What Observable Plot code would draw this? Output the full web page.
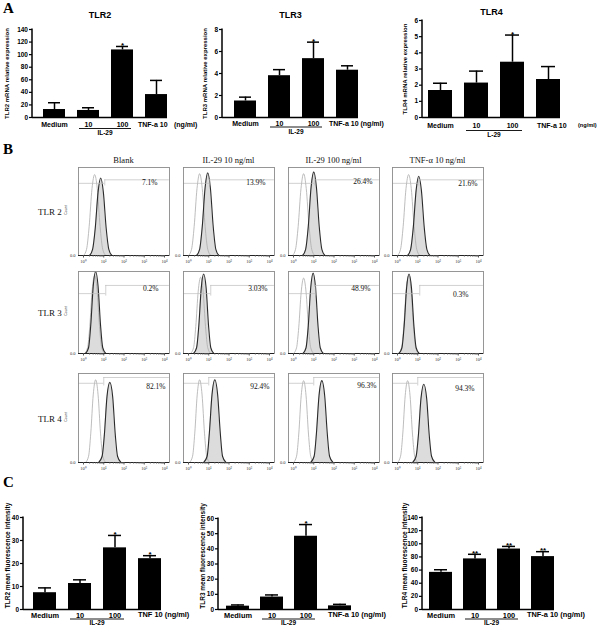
<!DOCTYPE html>
<html>
<head>
<meta charset="utf-8">
<script src="https://cdn.jsdelivr.net/npm/d3@7"></script>
<script src="https://cdn.jsdelivr.net/npm/@observablehq/plot@0.6"></script>
<style>
  body { margin: 0; background: #fff; }
  #fig { position: relative; width: 600px; height: 628px; overflow: hidden; background: #fff; }
  .lbl { position: absolute; white-space: nowrap; line-height: 1; }
  .letter { font-family: "Liberation Serif", "Times New Roman", serif; font-weight: bold; font-size: 15px; color: #000; }
  .hdr { font-family: "Liberation Serif", "Times New Roman", serif; font-size: 8.5px; transform: translate(-50%, -50%); color: #111; }
  .rowlbl { font-family: "Liberation Serif", "Times New Roman", serif; font-size: 9px; transform: translate(0, -50%); color: #111; }
  .count { font-family: "Liberation Sans", Arial, sans-serif; font-size: 3.5px; transform: translate(-50%, -50%) rotate(-90deg); color: #333; }
</style>
</head>
<body>
<div id="fig"></div>
<script>
// ================= DATA =================
// Panel A: TLR mRNA relative expression (bar = mean, upper = top of error bar)
const catsA = ["Medium", "10", "100", "TNF-a 10"];
const tlr2mRNAMean  = [12.7, 11.2, 107.5, 36.5];
const tlr2mRNAUpper = [23.5, 15.5, 113, 59];
const tlr2mRNAStars = ["", "", "*", ""];
const tlr3mRNAMean  = [1.5, 3.8, 5.35, 4.3];
const tlr3mRNAUpper = [1.85, 4.35, 6.85, 4.7];
const tlr3mRNAStars = ["", "", "*", ""];
const tlr4mRNAMean  = [1.67, 2.13, 3.42, 2.35];
const tlr4mRNAUpper = [2.12, 2.87, 5.1, 3.15];
const tlr4mRNAStars = ["", "", "*", ""];
const yTicksA2 = [0, 20, 40, 60, 80, 100, 120, 140];
const yTicksA3 = [0, 2, 4, 6, 8];
const yTicksA4 = [0, 1, 2, 3, 4, 5, 6];

// Panel C: mean fluorescence intensity
const catsC2 = ["Medium", "10", "100", "TNF 10"];
const catsC = ["Medium", "10", "100", "TNF-a 10"];
const tlr2MFIMean  = [7.3, 11.3, 26.8, 22.1];
const tlr2MFIUpper = [9.4, 12.9, 32.2, 23.4];
const tlr2MFIStars = ["", "", "*", "*"];
const tlr3MFIMean  = [2.2, 8.2, 48.3, 2.4];
const tlr3MFIUpper = [3.0, 9.6, 56, 3.4];
const tlr3MFIStars = ["", "", "*", ""];
const tlr4MFIMean  = [56.5, 77, 92, 80.5];
const tlr4MFIUpper = [60.5, 84, 96, 88];
const tlr4MFIStars = ["", "**", "**", "**"];
const yTicksC2 = [0, 10, 20, 30, 40];
const yTicksC3 = [0, 10, 20, 30, 40, 50, 60];
const yTicksC4 = [0, 20, 40, 60, 80, 100, 120, 140];

// Panel B: flow cytometry histograms, points as [log10 intensity, relative count]
const conditions = ["Blank", "IL-29 10 ng/ml", "IL-29 100 ng/ml", "TNF-α 10 ng/ml"];
const receptors = ["TLR 2", "TLR 3", "TLR 4"];
const tlr2Iso = [
  [[0.0,0],[0.15,0.07],[0.28,0.33],[0.42,0.76],[0.55,0.92],[0.68,0.76],[0.82,0.33],[0.95,0.07],[1.1,0]],
  [[0.0,0],[0.15,0.07],[0.28,0.33],[0.42,0.76],[0.55,0.93],[0.68,0.76],[0.82,0.33],[0.95,0.07],[1.1,0]],
  [[-0.05,0],[0.1,0.07],[0.23,0.33],[0.37,0.76],[0.5,0.93],[0.63,0.76],[0.77,0.33],[0.9,0.07],[1.05,0]],
  [[0.0,0],[0.15,0.07],[0.28,0.33],[0.42,0.76],[0.55,0.92],[0.68,0.76],[0.82,0.33],[0.95,0.07],[1.1,0]]
];
const tlr2Stain = [
  [[0.3,0],[0.45,0.07],[0.58,0.31],[0.72,0.72],[0.85,0.88],[0.98,0.72],[1.12,0.31],[1.25,0.07],[1.4,0]],
  [[0.4,0],[0.55,0.07],[0.68,0.33],[0.82,0.77],[0.95,0.94],[1.08,0.77],[1.22,0.33],[1.35,0.07],[1.5,0]],
  [[0.45,0],[0.6,0.07],[0.73,0.33],[0.87,0.78],[1.0,0.95],[1.13,0.78],[1.27,0.33],[1.4,0.07],[1.55,0]],
  [[0.5,0],[0.65,0.07],[0.78,0.32],[0.92,0.74],[1.05,0.9],[1.18,0.74],[1.32,0.32],[1.45,0.07],[1.6,0]]
];
const tlr3Iso = [
  [[0.05,0],[0.2,0.07],[0.31,0.33],[0.43,0.78],[0.55,0.95],[0.67,0.78],[0.79,0.33],[0.9,0.07],[1.05,0]],
  [[0.1,0],[0.25,0.07],[0.36,0.33],[0.48,0.76],[0.6,0.93],[0.72,0.76],[0.84,0.33],[0.95,0.07],[1.1,0]],
  [[0.0,0],[0.15,0.07],[0.26,0.32],[0.38,0.75],[0.5,0.92],[0.62,0.75],[0.74,0.32],[0.85,0.07],[1.0,0]],
  [[0.05,0],[0.2,0.07],[0.31,0.33],[0.43,0.78],[0.55,0.95],[0.67,0.78],[0.79,0.33],[0.9,0.07],[1.05,0]]
];
const tlr3Stain = [
  [[0.1,0],[0.25,0.07],[0.36,0.35],[0.48,0.82],[0.6,1.0],[0.72,0.82],[0.84,0.35],[0.95,0.07],[1.1,0]],
  [[0.25,0],[0.4,0.07],[0.51,0.34],[0.63,0.8],[0.75,0.97],[0.87,0.8],[0.99,0.34],[1.1,0.07],[1.25,0]],
  [[0.47,0],[0.62,0.07],[0.73,0.34],[0.85,0.8],[0.97,0.98],[1.09,0.8],[1.21,0.34],[1.32,0.07],[1.47,0]],
  [[0.07,0],[0.22,0.07],[0.33,0.34],[0.45,0.8],[0.57,0.97],[0.69,0.8],[0.81,0.34],[0.92,0.07],[1.07,0]]
];
const tlr4Iso = [
  [[0.1,0],[0.25,0.07],[0.36,0.33],[0.48,0.76],[0.6,0.93],[0.72,0.76],[0.84,0.33],[0.95,0.07],[1.1,0]],
  [[0.05,0],[0.2,0.07],[0.31,0.33],[0.43,0.76],[0.55,0.93],[0.67,0.76],[0.79,0.33],[0.9,0.07],[1.05,0]],
  [[0.0,0],[0.15,0.07],[0.26,0.32],[0.38,0.75],[0.5,0.92],[0.62,0.75],[0.74,0.32],[0.85,0.07],[1.0,0]],
  [[0.0,0],[0.15,0.07],[0.26,0.32],[0.38,0.75],[0.5,0.92],[0.62,0.75],[0.74,0.32],[0.85,0.07],[1.0,0]]
];
const tlr4Stain = [
  [[0.75,0],[0.92,0.07],[1.03,0.31],[1.16,0.74],[1.3,0.9],[1.44,0.74],[1.57,0.31],[1.68,0.07],[1.85,0]],
  [[0.75,0],[0.92,0.07],[1.03,0.33],[1.16,0.76],[1.3,0.93],[1.44,0.76],[1.57,0.33],[1.68,0.07],[1.85,0]],
  [[0.85,0],[1.02,0.07],[1.13,0.32],[1.26,0.75],[1.4,0.92],[1.54,0.75],[1.67,0.32],[1.78,0.07],[1.95,0]],
  [[0.75,0],[0.92,0.07],[1.03,0.3],[1.16,0.72],[1.3,0.88],[1.44,0.72],[1.57,0.3],[1.68,0.07],[1.85,0]]
];
const tlr2Pct = ["7.1%", "13.9%", "26.4%", "21.6%"];
const tlr3Pct = ["0.2%", "3.03%", "48.9%", "0.3%"];
const tlr4Pct = ["82.1%", "92.4%", "96.3%", "94.3%"];
// gate marker: split point (log10) and the two levels
const tlr2Gate = {at: 1.05, low: 0.82, high: 0.86};
const tlr3Gate = {at: 1.1, low: 0.73, high: 0.83};
const tlr4Gate = {at: 1.0, low: 0.89, high: 0.955};
const decadeTicks = [0, 1, 2, 3, 4];
const decadeLabels = ["10⁰", "10¹", "10²", "10³", "10⁴"];
const minorMultipliers = [2, 3, 4, 5, 6, 7, 8, 9];

// ================= LAYOUT / STYLE =================
const sans = "'Liberation Sans', Arial, Helvetica, sans-serif";
const serif = "'Liberation Serif', 'Times New Roman', serif";
const fig = document.getElementById("fig");

function addLabel(text, cls, left, top) {
  const el = document.createElement("div");
  el.className = "lbl " + cls;
  el.textContent = text;
  el.style.left = left + "px";
  el.style.top = top + "px";
  fig.appendChild(el);
}
function place(svg, left, top) {
  svg.style.position = "absolute";
  svg.style.left = left + "px";
  svg.style.top = top + "px";
  svg.style.maxWidth = "none";
  fig.appendChild(svg);
}

function barChart(L, cats, means, uppers, stars, yTicks, yMax, yLabel, title, groupLabel) {
  const rows = cats.map((c, i) => ({cat: c, mean: means[i], upper: uppers[i], star: stars[i]}));
  const last = cats[cats.length - 1];
  const decor = (index, scales, values, dims) => {
    const x = scales.x;
    const bw = x.bandwidth();
    const base = dims.height - dims.marginBottom;
    const g = d3.create("svg:g").attr("fill", "#000");
    g.append("line").attr("x1", dims.marginLeft).attr("x2", dims.marginLeft)
      .attr("y1", dims.marginTop - 0.5).attr("y2", base + 0.75)
      .attr("stroke", "#000").attr("stroke-width", 1.5);
    const u1 = x(cats[1]) + L.ulIn, u2 = x(cats[2]) + bw - L.ulIn;
    g.append("line").attr("x1", u1).attr("x2", u2)
      .attr("y1", base + L.ulDy).attr("y2", base + L.ulDy)
      .attr("stroke", "#000").attr("stroke-width", 0.9);
    g.append("text").attr("x", (u1 + u2) / 2).attr("y", base + L.grpDy)
      .attr("text-anchor", "middle").attr("dy", "0.35em")
      .attr("font-size", 6.5).text(groupLabel);
    g.append("text").attr("x", x(last) + L.tnfDx).attr("y", base + L.tickPad)
      .attr("text-anchor", "start").attr("dy", "0.71em").attr("font-size", L.xfs)
      .text(L.unitDx == null ? last + " (ng/ml)" : last);
    if (L.unitDx != null)
      g.append("text").attr("x", x(last) + bw + L.unitDx).attr("y", base + L.tickPad)
        .attr("text-anchor", "start").attr("dy", "0.71em").attr("font-size", L.unitFs || L.xfs).text("(ng/ml)");
    return g.node();
  };
  const svg = Plot.plot({
    width: L.width, height: L.height,
    marginLeft: L.mL, marginRight: L.mR, marginTop: L.mT, marginBottom: L.mB,
    style: {fontFamily: sans, fontWeight: "bold", fontSize: "7px", color: "#000", background: "transparent", overflow: "visible"},
    x: {domain: cats, paddingInner: L.pad[0], paddingOuter: L.pad[1], align: 1},
    y: {domain: [0, yMax]},
    marks: [
      Plot.barY(rows, {x: "cat", y: "mean", fill: "#000"}),
      Plot.ruleX(rows, {x: "cat", y1: "mean", y2: "upper", stroke: "#000", strokeWidth: 1.5}),
      Plot.tickY(rows, {x: "cat", y: "upper", stroke: "#000", strokeWidth: 1.5, insetLeft: L.capIn, insetRight: L.capIn}),
      Plot.text(rows.filter(d => d.star), {x: "cat", y: "upper", text: "star", dy: -1, lineAnchor: "middle", fontSize: 8, fontWeight: "bold", fill: "#000"}),
      Plot.ruleY([0], {stroke: "#000", strokeWidth: 1.5}),
      Plot.axisY({ticks: yTicks, tickSize: 3, tickPadding: 1.5, tickFormat: d => String(d), fontSize: 6.5, strokeWidth: 1.2, label: null}),
      Plot.axisX({tickSize: 0, tickPadding: L.tickPad, tickFormat: d => (d === last ? "" : d), fontSize: L.xfs, label: null}),
      Plot.text([yLabel], {frameAnchor: "left", textAnchor: "middle", rotate: -90, dx: L.ylDx, dy: L.ylDy, fontSize: L.ylFs, fontWeight: "bold", fill: "#000"}),
      ...(title ? [Plot.text([title], {frameAnchor: "top", textAnchor: "middle", dy: L.titleDy, lineAnchor: "middle", fontSize: 9, fontWeight: "bold", fill: "#000"})] : []),
      decor
    ]
  });
  place(svg, L.left, L.top);
}

// Panel A charts
barChart({left: 0, top: 0, width: 200, height: 140, mL: 32, mR: 33, mT: 29, mB: 23, pad: [0.35, 0.16],
  tickPad: 5, xfs: 7, ulDy: 11.5, ulIn: 2, grpDy: 15.5, tnfDx: -7, unitDx: 7, ylDx: -25, ylDy: 0, ylFs: 6, titleDy: -14, capIn: 5},
  catsA, tlr2mRNAMean, tlr2mRNAUpper, tlr2mRNAStars, yTicksA2, 140, "TLR2 mRNA relative expression", "TLR2", "IL-29");
barChart({left: 200, top: 0, width: 200, height: 140, mL: 22, mR: 42, mT: 29, mB: 23, pad: [0.35, 0.157],
  tickPad: 4, xfs: 7, ulDy: 10, ulIn: 2, grpDy: 14.5, tnfDx: -7, unitDx: null, ylDx: -17, ylDy: 0, ylFs: 6, titleDy: -14, capIn: 5},
  catsA, tlr3mRNAMean, tlr3mRNAUpper, tlr3mRNAStars, yTicksA3, 8, "TLR3 mRNA relative expression", "TLR3", "IL-29");
barChart({left: 400, top: 0, width: 200, height: 140, mL: 22, mR: 40, mT: 20, mB: 23, pad: [0.34, 0.07],
  tickPad: 6, xfs: 7, ulDy: 13.5, ulIn: 2, grpDy: 18, tnfDx: 1, unitDx: 18, unitFs: 5.6, ylDx: -17, ylDy: 0, ylFs: 6, titleDy: -8, capIn: 5},
  catsA, tlr4mRNAMean, tlr4mRNAUpper, tlr4mRNAStars, yTicksA4, 6, "TLR4 mRNA relative expression", "TLR4", "L-29");

// Panel C charts
barChart({left: 0, top: 470, width: 200, height: 158, mL: 23, mR: 39, mT: 47, mB: 19, pad: [0.34, 0.14],
  tickPad: 3, xfs: 7.4, ulDy: 10, ulIn: 2, grpDy: 14, tnfDx: 0, unitDx: null, ylDx: -16, ylDy: -8, ylFs: 6.5, titleDy: 0, capIn: 5},
  catsC2, tlr2MFIMean, tlr2MFIUpper, tlr2MFIStars, yTicksC2, 40, "TLR2 mean fluorescence intensity", null, "IL-29");
barChart({left: 200, top: 470, width: 200, height: 158, mL: 18, mR: 49, mT: 48, mB: 19, pad: [0.33, 0.12],
  tickPad: 3, xfs: 7.4, ulDy: 10, ulIn: 2, grpDy: 14, tnfDx: 0, unitDx: null, ylDx: -16, ylDy: -8, ylFs: 6.5, titleDy: 0, capIn: 5},
  catsC, tlr3MFIMean, tlr3MFIUpper, tlr3MFIStars, yTicksC3, 60, "TLR3 mean fluorescence intensity", null, "IL-29");
barChart({left: 400, top: 470, width: 200, height: 158, mL: 22, mR: 46, mT: 47, mB: 19, pad: [0.31, 0.055],
  tickPad: 3, xfs: 7.4, ulDy: 10, ulIn: 2, grpDy: 14, tnfDx: -4, unitDx: null, ylDx: -18, ylDy: -8, ylFs: 6.5, titleDy: 0, capIn: 5},
  catsC, tlr4MFIMean, tlr4MFIUpper, tlr4MFIStars, yTicksC4, 140, "TLR4 mean fluorescence intensity", null, "IL-29");

// Panel B histograms
const flow = [
  {iso: tlr2Iso, stain: tlr2Stain, pct: tlr2Pct, gate: tlr2Gate},
  {iso: tlr3Iso, stain: tlr3Stain, pct: tlr3Pct, gate: tlr3Gate},
  {iso: tlr4Iso, stain: tlr4Stain, pct: tlr4Pct, gate: tlr4Gate}
];
const colLefts = [78, 183, 288, 392];
const boxW = 91;
const rowTops = [167, 271, 373];
const rowHeights = [88, 82, 89];
const pctRight = [[12, 9, 7, 6], [11, 7, 9, 15], [4, 5, 3, 9]];
const pctDown = [[15, 15, 14, 16], [17, 17, 17, 23], [13, 13, 12, 15]];
const minorTicks = decadeTicks.slice(0, 4).flatMap(d => minorMultipliers.map(k => d + Math.log10(k)));

function histPlot(r, c) {
  const spec = flow[r], g = spec.gate;
  const mL = 14, mR = 4, mT = 2, mB = 12;
  const H = rowHeights[r];
  const px = d => d[0], py = d => d[1];
  const svg = Plot.plot({
    width: boxW + mL + mR, height: H + mT + mB,
    marginLeft: mL, marginRight: mR, marginTop: mT, marginBottom: mB,
    style: {fontFamily: serif, fontSize: "5px", color: "#333", background: "transparent", overflow: "visible"},
    x: {domain: [0, 4], insetLeft: 5, insetRight: 5},
    y: {domain: [0, 1]},
    marks: [
      Plot.areaY(spec.stain[c], {x: px, y: py, fill: "#dcdcdc", curve: "monotone-x"}),
      Plot.lineY(spec.iso[c], {x: px, y: py, stroke: "#acacac", strokeWidth: 0.8, curve: "monotone-x"}),
      Plot.lineY(spec.stain[c], {x: px, y: py, stroke: "#2a2a2a", strokeWidth: 1.1, curve: "monotone-x"}),
      Plot.ruleY([{y: g.low, x1: -0.24, x2: g.at}, {y: g.high, x1: g.at, x2: 4.24}],
        {y: "y", x1: "x1", x2: "x2", stroke: "#bdbdbd", strokeWidth: 0.7}),
      Plot.ruleX([g], {x: "at", y1: d => d.low - 0.03, y2: "high", stroke: "#bdbdbd", strokeWidth: 0.7}),
      Plot.frame({stroke: "#8c8c8c", strokeWidth: 0.9}),
      Plot.ruleY([0], {stroke: "#222", strokeWidth: 1}),
      Plot.axisX({ticks: minorTicks, tickSize: 1.5, tickFormat: () => "", stroke: "#555", label: null}),
      Plot.axisX({ticks: decadeTicks, tickSize: 2.5, tickPadding: 1.5, tickFormat: d => decadeLabels[d], fontSize: 4.5, stroke: "#555", label: null}),
      Plot.axisY({ticks: [0], tickSize: 0, tickPadding: 3, fontSize: 4.5, label: null}),
      Plot.text([spec.pct[c]], {frameAnchor: "top-right", dx: -pctRight[r][c], dy: pctDown[r][c],
        lineAnchor: "middle", textAnchor: "end", fontSize: 7.5, fill: "#111"})
    ]
  });
  place(svg, colLefts[c] - mL, rowTops[r] - mT);
}
for (let r = 0; r < 3; r++) for (let c = 0; c < 4; c++) histPlot(r, c);

// Panel texts
addLabel("A", "letter", 3, 1);
addLabel("B", "letter", 3, 142);
addLabel("C", "letter", 3, 475);
conditions.forEach((t, c) => addLabel(t, "hdr", colLefts[c] + boxW / 2, 160));
receptors.forEach((t, r) => {
  addLabel(t, "rowlbl", 38, rowTops[r] + rowHeights[r] / 2 + 1);
  addLabel("Count", "count", 67, rowTops[r] + rowHeights[r] / 2 - 1);
});
</script>
</body>
</html>
